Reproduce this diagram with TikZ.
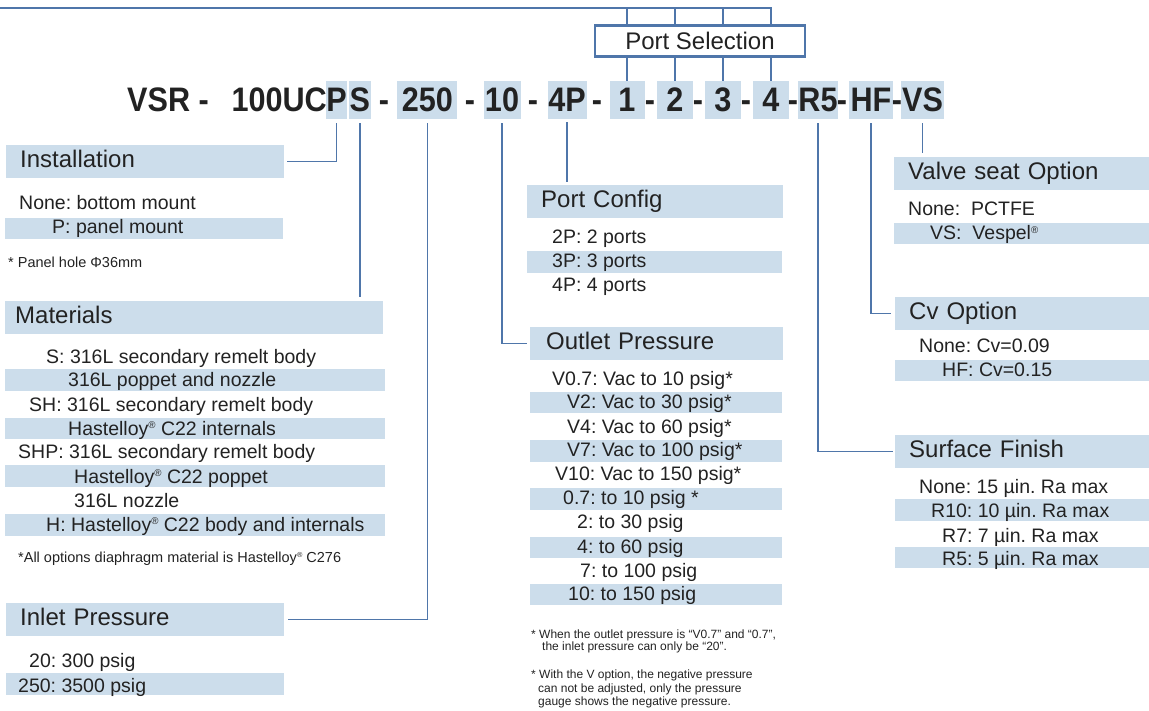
\documentclass[tikz,border=0pt]{standalone}
\usepackage{fontspec}
\setmainfont{Liberation Sans}
\newfontfamily\codefont[FakeStretch=0.9]{Liberation Sans}
\usepackage{tikz}
\definecolor{lineblue}{HTML}{4F76AA}
\definecolor{rowblue}{HTML}{CCDDEB}
\definecolor{ink}{HTML}{222222}
\newcommand{\reg}{\raisebox{0.33em}{\scalebox{0.5}{®}}}
\newcommand{\hdrsize}{\fontsize{24}{28}\selectfont}
\newcommand{\optsize}{\fontsize{19.5}{23}\selectfont}
\newcommand{\notesize}{\fontsize{14.5}{17}\selectfont}
\newcommand{\fnsize}{\fontsize{12}{13}\selectfont}
\newcommand{\codesize}{\codefont\bfseries\fontsize{34}{36}\selectfont}
\frenchspacing

\begin{document}
\begin{tikzpicture}[x=1pt, y=-1pt,
  conn/.style={draw=lineblue, line width=1.4pt},
  hdr/.style={fill=rowblue, anchor=north west, inner xsep=14pt, inner ysep=5.5pt,
    text height=16.5pt, text depth=5pt, align=left, font=\hdrsize, text=ink},
  codebox/.style={fill=rowblue, inner sep=0pt, minimum height=38pt,
    text height=24pt, text depth=0pt, font=\codesize, text=ink},
  code/.style={inner sep=0pt, text height=24pt, text depth=0pt, font=\codesize, text=ink},
  opt/.style={anchor=base west, inner sep=0pt, font=\optsize, text=ink},
  note/.style={anchor=base west, inner sep=0pt, font=\notesize, text=ink},
  fnote/.style={anchor=base west, inner sep=0pt, font=\fnsize, text=ink}]
\useasboundingbox (0,0) rectangle (1149,711);

% ordering code
\node[code, anchor=west] (vsr) at (127,100) {VSR -};
\node[code, anchor=east] (model) at (327,100) {100UC};
\node[codebox, minimum width=19pt] (cP) at (336.7,100) {P};
\node[codebox, minimum width=22pt] (cS) at (359.8,100) {S};
\node[code] (d1) at (384,100) {-};
\node[codebox, minimum width=60pt] (c250) at (427.3,100) {250};
\node[code] (d2) at (470,100) {-};
\node[codebox, minimum width=37pt] (c10) at (502,100) {10};
\node[code] (d3) at (533,100) {-};
\node[codebox, minimum width=39pt] (c4P) at (567,100) {4P};
\node[code] (d4) at (597,100) {-};
\node[codebox, minimum width=35pt] (c1) at (627,100) {1};
\node[code] (d5) at (650,100) {-};
\node[codebox, minimum width=36pt] (c2) at (675,100) {2};
\node[code] (d6) at (698,100) {-};
\node[codebox, minimum width=36pt] (c3) at (723,100) {3};
\node[code] (d7) at (746,100) {-};
\node[codebox, minimum width=36pt] (c4) at (771,100) {4};
\node[code] (d8) at (793,100) {-};
\node[codebox, minimum width=35pt] (cR5) at (818,100) {R5};
\node[code] (d9) at (842,100) {-};
\node[codebox, minimum width=44pt] (cHF) at (871,100) {HF};
\node[code] (d10) at (897,100) {-};
\node[codebox, minimum width=43pt] (cVS) at (922.5,100) {VS};

% port selection
\node[draw=lineblue, line width=2.2pt, minimum width=210pt, minimum height=31pt,
  inner sep=0pt, font=\hdrsize, text=ink] (sel) at (700,41) {Port Selection};
\coordinate (topleft) at (0,8);
\draw[conn, line width=2.2pt] (topleft) -| (c4.north |- sel.north);
\foreach \p in {c1,c2,c3}
  \draw[conn] (\p.north |- topleft) -- (\p.north |- sel.north);
\foreach \p in {c1,c2,c3,c4}
  \draw[conn] (\p.north |- sel.south) -- (\p.north);

% headers
\node[hdr, text width=250pt] (inst) at (6,145) {Installation};
\node[hdr, inner xsep=10pt, text width=358pt] (mat) at (5,301) {Materials};
\node[hdr, text width=250pt] (inlet) at (6,603) {Inlet Pressure};
\node[hdr, text width=228pt] (pconf) at (527,185) {Port Config};
\node[hdr, inner xsep=16pt, text width=221pt] (outlet) at (530,327) {Outlet Pressure};
\node[hdr, text width=227pt] (valve) at (894,157) {Valve seat Option};
\node[hdr, text width=226pt] (cv) at (895,297) {Cv Option};
\node[hdr, text width=226pt] (surf) at (895,435) {Surface Finish};

% connectors
\draw[conn, shorten <=4pt] (cP.south) |- ([xshift=3pt]inst.east);
\draw[conn, shorten <=4pt, shorten >=4pt] (cS.south) -- (cS.south |- mat.north);
\draw[conn, shorten <=4pt] (c250.south) |- ([xshift=4pt]inlet.east);
\draw[conn, shorten <=4pt] (c10.south) |- ([xshift=-3pt]outlet.west);
\draw[conn, shorten <=3pt, shorten >=3pt] (c4P.south) -- (c4P.south |- pconf.north);
\draw[conn, shorten <=4pt] (cR5.south) |- ([xshift=-2pt]surf.west);
\draw[conn, shorten <=4pt] (cHF.south) |- ([xshift=-4pt]cv.west);
\draw[conn, shorten <=4pt, shorten >=4pt] (cVS.south) -- (cVS.south |- valve.north);

% shaded rows
\fill[rowblue] (5,218) rectangle (283,239);
\fill[rowblue] (5,369) rectangle (385,391);
\fill[rowblue] (5,418) rectangle (385,439);
\fill[rowblue] (5,465) rectangle (385,487);
\fill[rowblue] (5,514) rectangle (385,536);
\fill[rowblue] (6,673) rectangle (284,695);
\fill[rowblue] (527,251) rectangle (782,273);
\fill[rowblue] (530,392) rectangle (782,413);
\fill[rowblue] (530,440) rectangle (782,462);
\fill[rowblue] (530,488) rectangle (782,510);
\fill[rowblue] (530,537) rectangle (782,558);
\fill[rowblue] (530,584) rectangle (782,605);
\fill[rowblue] (894,223) rectangle (1149,244);
\fill[rowblue] (895,360) rectangle (1149,381);
\fill[rowblue] (895,499) rectangle (1149,521);
\fill[rowblue] (895,547) rectangle (1149,568);

% installation
\node[opt] (inst1) at (19,210) {None: bottom mount};
\node[opt] (inst2) at (52,234) {P: panel mount};
\node[note] (instnote) at (8,268) {* Panel hole Φ36mm};

% materials
\node[opt] (mat1) at (46,363) {S: 316L secondary remelt body};
\node[opt] (mat2) at (68,387) {316L poppet and nozzle};
\node[opt] (mat3) at (29,411) {SH: 316L secondary remelt body};
\node[opt] (mat4) at (68,435) {Hastelloy\reg{} C22 internals};
\node[opt] (mat5) at (18,458) {SHP: 316L secondary remelt body};
\node[opt] (mat6) at (74,483) {Hastelloy\reg{} C22 poppet};
\node[opt] (mat7) at (74,507) {316L nozzle};
\node[opt] (mat8) at (46,531) {H: Hastelloy\reg{} C22 body and internals};
\node[note] (matnote) at (18,562) {*All options diaphragm material is Hastelloy\reg{} C276};

% inlet pressure
\node[opt] (in1) at (29,667) {20: 300 psig};
\node[opt] (in2) at (18,692) {250: 3500 psig};

% port config
\node[opt] (pc1) at (552,244) {2P: 2 ports};
\node[opt] (pc2) at (552,268) {3P: 3 ports};
\node[opt] (pc3) at (552,292) {4P: 4 ports};

% outlet pressure
\node[opt] (out1) at (552,385) {V0.7: Vac to 10 psig*};
\node[opt] (out2) at (567,408) {V2: Vac to 30 psig*};
\node[opt] (out3) at (567,433) {V4: Vac to 60 psig*};
\node[opt] (out4) at (567,456) {V7: Vac to 100 psig*};
\node[opt] (out5) at (555,480) {V10: Vac to 150 psig*};
\node[opt] (out6) at (563,504) {0.7: to 10 psig *};
\node[opt] (out7) at (577,528) {2: to 30 psig};
\node[opt] (out8) at (577,553) {4: to 60 psig};
\node[opt] (out9) at (580,577) {7: to 100 psig};
\node[opt] (out10) at (568,600) {10: to 150 psig};
\node[fnote] (outnote1) at (531,638) {* When the outlet pressure is “V0.7” and “0.7”,};
\node[fnote] (outnote2) at (542,650) {the inlet pressure can only be “20”.};
\node[fnote] (outnote3) at (531,678) {* With the V option, the negative pressure};
\node[fnote] (outnote4) at (538,692) {can not be adjusted, only the pressure};
\node[fnote] (outnote5) at (538,705) {gauge shows the negative pressure.};

% valve seat
\node[opt] (vs1) at (908,216) {None:\ \ PCTFE};
\node[opt] (vs2) at (930,240) {VS:\ \ Vespel\reg};

% cv
\node[opt] (cv1) at (919,353) {None: Cv=0.09};
\node[opt] (cv2) at (942,377) {HF: Cv=0.15};

% surface finish
\node[opt] (sf1) at (919,493) {None: 15 µin. Ra max};
\node[opt] (sf2) at (931,517) {R10: 10 µin. Ra max};
\node[opt] (sf3) at (942,542) {R7: 7 µin. Ra max};
\node[opt] (sf4) at (942,565) {R5: 5 µin. Ra max};
\end{tikzpicture}
\end{document}
